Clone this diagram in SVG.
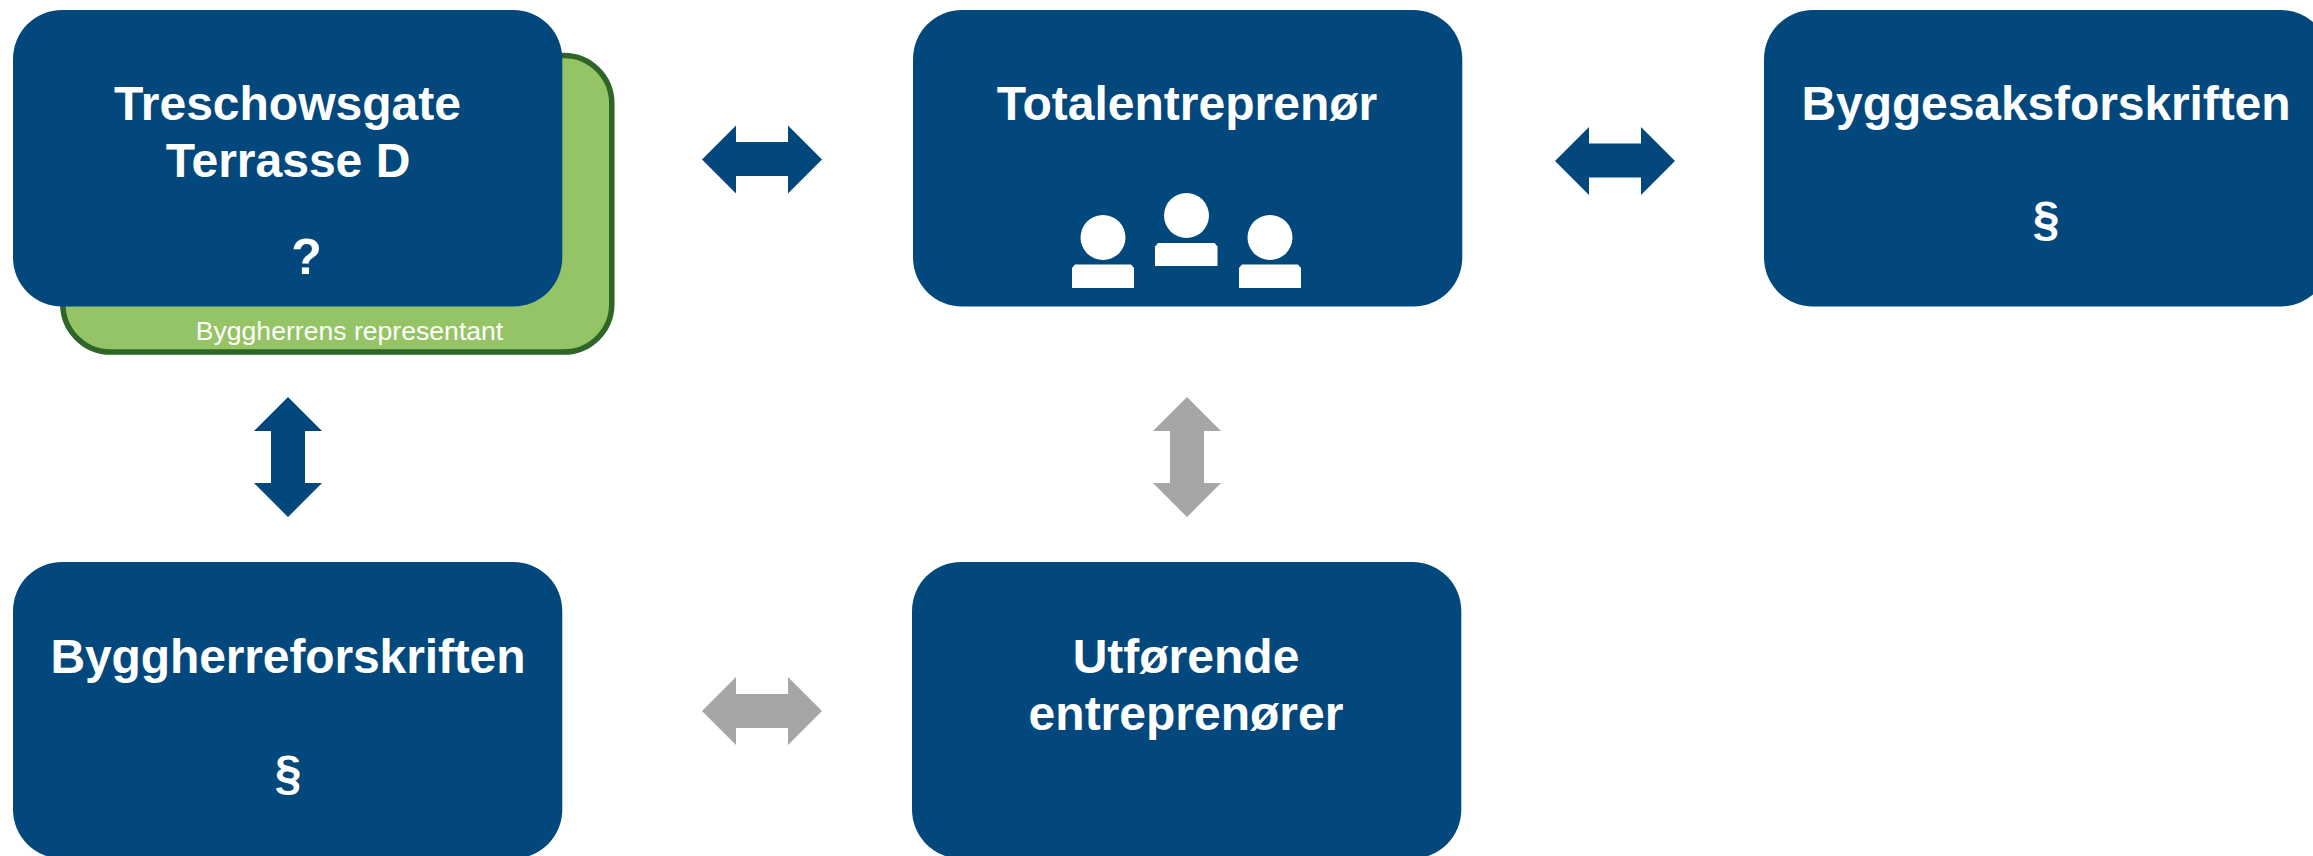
<svg xmlns="http://www.w3.org/2000/svg" width="2313" height="856" viewBox="0 0 2313 856">
<style>
.box{fill:#03487C}
.t{font-family:"Liberation Sans",Arial,sans-serif;font-weight:700;font-size:48px;fill:#fff;text-anchor:middle}
.q{font-size:50px}
.s{font-family:"Liberation Sans",Arial,sans-serif;font-size:26.6px;fill:#fff;text-anchor:middle}
.blue{fill:#03487C}
.grey{fill:#A6A6A6}
.w{fill:#fff}
</style>
<rect width="2313" height="856" fill="#fff"/>
<g id="connectors">
<path class="blue" d="M702 159.500L736 125.500V142H788V125.500L822 159.500L788 193.500V176H736V193.500Z"/>
<path class="blue" d="M1555 161L1589 127V143.500H1641V127L1675 161L1641 195V177.500H1589V195Z"/>
<path class="blue" d="M288 397L322 431H305V483H322L288 517L254 483H271V431H254Z"/>
<path class="grey" d="M1187 397L1221 431H1204V483H1221L1187 517L1153 483H1170V431H1153Z"/>
<path class="grey" d="M702 711L736 677V694H788V677L822 711L788 745V728H736V745Z"/>
</g>
<g id="node-representant">
<rect x="62.800" y="55.500" width="549" height="296.500" rx="48" fill="#95C466" stroke="#2F6528" stroke-width="5.500"/>
<text class="s" x="349.500" y="339.500">Byggherrens representant</text>
</g>
<g id="node-treschowsgate">
<rect class="box" x="13" y="10" width="549.300" height="296.500" rx="49"/>
<text class="t" x="287.500" y="119.500">Treschowsgate</text>
<text class="t" x="288" y="176.500">Terrasse D</text>
<text class="t q" x="306.500" y="274">?</text>
</g>
<g id="node-totalentreprenor">
<rect class="box" x="913" y="10" width="549.300" height="296.500" rx="49"/>
<text class="t" x="1187" y="119.500">Totalentreprenør</text>
<circle class="w" cx="1103" cy="237.500" r="22.500"/>
<path class="w" d="M1072 288V268L1075 264.500H1131L1134 268V288Z"/>
<circle class="w" cx="1186.500" cy="215.500" r="22.500"/>
<path class="w" d="M1155 266V246.500L1158 243H1214.500L1217.500 246.500V266Z"/>
<circle class="w" cx="1270" cy="237.500" r="22.500"/>
<path class="w" d="M1239 288V268L1242 264.500H1298L1301 268V288Z"/>
</g>
<g id="node-byggesaksforskriften">
<rect class="box" x="1764" y="10" width="566" height="296.500" rx="49"/>
<text class="t" x="2046" y="119.500" textLength="489">Byggesaksforskriften</text>
<text class="t" x="2046" y="235">§</text>
</g>
<g id="node-byggherreforskriften">
<rect class="box" x="13" y="562" width="549.300" height="296.500" rx="49"/>
<text class="t" x="288" y="673" textLength="475">Byggherreforskriften</text>
<text class="t" x="288" y="788.500">§</text>
</g>
<g id="node-utforende">
<rect class="box" x="912" y="562" width="549.300" height="296.500" rx="49"/>
<text class="t" x="1186" y="673">Utførende</text>
<text class="t" x="1186" y="729.500">entreprenører</text>
</g>
</svg>
